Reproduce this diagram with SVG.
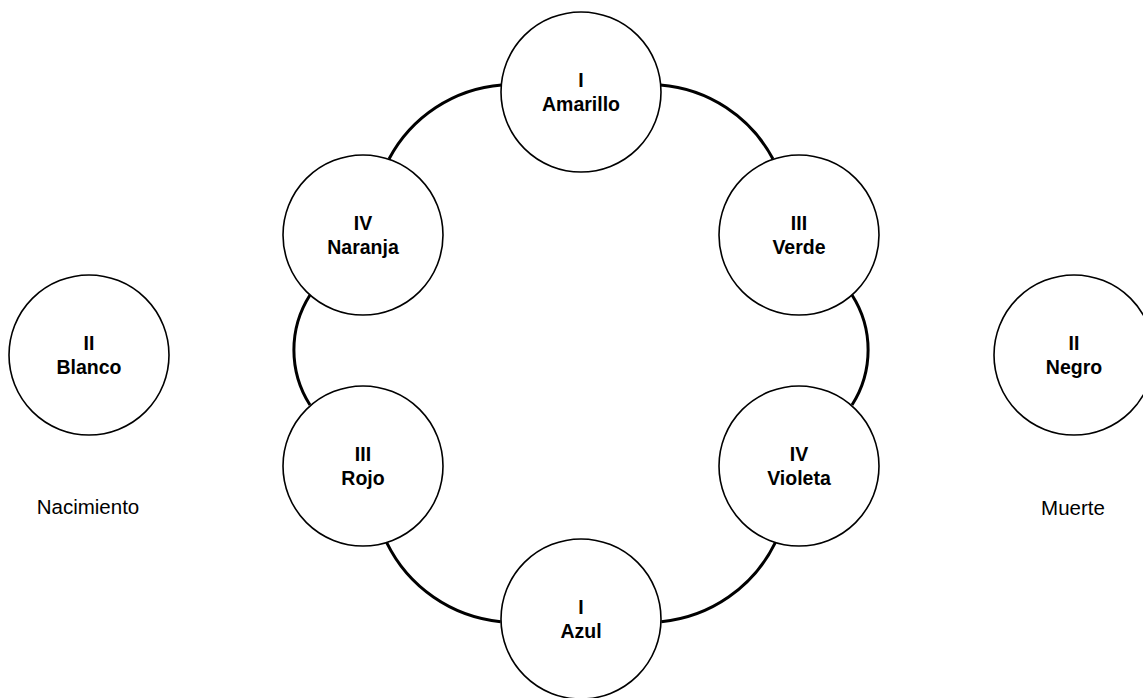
<svg xmlns="http://www.w3.org/2000/svg" width="1143" height="698" viewBox="0 0 1143 698">
  <style>
    .node { fill: #ffffff; stroke: #000000; stroke-width: 1.6; }
    .link { fill: none; stroke: #000000; stroke-width: 3; }
    .lbl { font-family: "Liberation Sans", Arial, Helvetica, sans-serif; font-size: 19.5px; font-weight: bold; text-anchor: middle; fill: #000000; }
    .cap { font-family: "Liberation Sans", Arial, Helvetica, sans-serif; font-size: 20.5px; text-anchor: middle; fill: #000000; }
  </style>
  <rect width="1143" height="698" fill="#ffffff"/>

  <!-- ring of curved connectors, drawn clockwise -->
  <g id="connectors">
    <path class="link" d="M389,159 A140,140 0 0 1 501.7,85"/>
    <path class="link" d="M660.3,85 A140,140 0 0 1 773,159"/>
    <path class="link" d="M852,295 A102,102 0 0 1 852,405"/>
    <path class="link" d="M775.3,542.7 A142,142 0 0 1 661.3,621.7"/>
    <path class="link" d="M500.7,621.7 A142,142 0 0 1 386.7,542.7"/>
    <path class="link" d="M310,405 A102,102 0 0 1 310,295"/>
  </g>

  <g id="amarillo">
    <circle class="node" cx="581" cy="92" r="80"/>
    <text class="lbl" x="581" y="86.7">I</text>
    <text class="lbl" x="581" y="110.7">Amarillo</text>
  </g>
  <g id="verde">
    <circle class="node" cx="799" cy="235" r="80"/>
    <text class="lbl" x="799" y="229.7">III</text>
    <text class="lbl" x="799" y="253.7">Verde</text>
  </g>
  <g id="violeta">
    <circle class="node" cx="799" cy="466" r="80"/>
    <text class="lbl" x="799" y="460.7">IV</text>
    <text class="lbl" x="799" y="484.7">Violeta</text>
  </g>
  <g id="azul">
    <circle class="node" cx="581" cy="619" r="80"/>
    <text class="lbl" x="581" y="613.7">I</text>
    <text class="lbl" x="581" y="637.7">Azul</text>
  </g>
  <g id="rojo">
    <circle class="node" cx="363" cy="466" r="80"/>
    <text class="lbl" x="363" y="460.7">III</text>
    <text class="lbl" x="363" y="484.7">Rojo</text>
  </g>
  <g id="naranja">
    <circle class="node" cx="363" cy="235" r="80"/>
    <text class="lbl" x="363" y="229.7">IV</text>
    <text class="lbl" x="363" y="253.7">Naranja</text>
  </g>

  <g id="blanco">
    <circle class="node" cx="89" cy="355" r="80"/>
    <text class="lbl" x="89" y="349.7">II</text>
    <text class="lbl" x="89" y="373.7">Blanco</text>
  </g>
  <g id="negro">
    <circle class="node" cx="1074" cy="355" r="80"/>
    <text class="lbl" x="1074" y="349.7">II</text>
    <text class="lbl" x="1074" y="373.7">Negro</text>
  </g>

  <g id="nacimiento">
    <text class="cap" x="88" y="514">Nacimiento</text>
  </g>
  <g id="muerte">
    <text class="cap" x="1073" y="514.5">Muerte</text>
  </g>
</svg>
